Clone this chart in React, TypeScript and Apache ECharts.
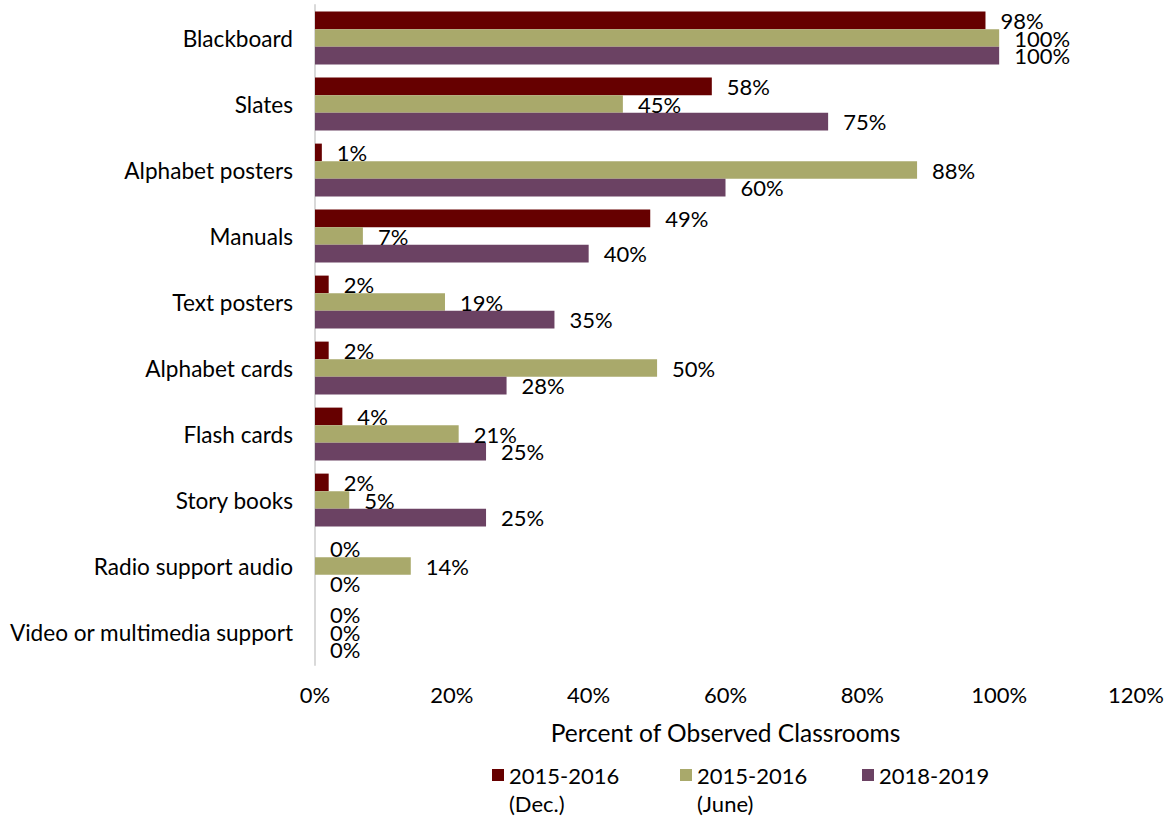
import React, { useEffect, useRef } from "react";
import * as echarts from "echarts";

const categories = [
  "Blackboard",
  "Slates",
  "Alphabet posters",
  "Manuals",
  "Text posters",
  "Alphabet cards",
  "Flash cards",
  "Story books",
  "Radio support audio",
  "Video or multimedia support",
];
const seriesNames = ["2015-2016 (Dec.)", "2015-2016 (June)", "2018-2019"];
const decValues = [98, 58, 1, 49, 2, 2, 4, 2, 0, 0];
const juneValues = [100, 45, 88, 7, 19, 50, 21, 5, 14, 0];
const values1819 = [100, 75, 60, 40, 35, 28, 25, 25, 0, 0];
const colors = ["#660000", "#A9A96B", "#6B4263"];
const FONT = "Lato";
const FS = 22;

export default function App() {
  const ref = useRef<HTMLDivElement>(null);
  useEffect(() => {
    document.body.style.margin = "0";
    if (!ref.current) return;
    const chart = echarts.init(ref.current, null, { renderer: "svg" });
    const allValues = [decValues, juneValues, values1819];
    const legendWidths = [171, 165, 110];
    chart.setOption({
      animation: false,
      textStyle: { fontFamily: FONT },
      grid: { left: 315, right: 38, top: 5, bottom: 152, containLabel: false },
      xAxis: {
        type: "value",
        min: 0,
        max: 120,
        interval: 20,
        axisLine: { show: false },
        axisTick: { show: false },
        splitLine: { show: false },
        axisLabel: { formatter: "{value}%", fontSize: FS, color: "#000", margin: 18, fontFamily: FONT },
        name: "Percent of Observed Classrooms",
        nameLocation: "middle",
        nameGap: 55,
        nameTextStyle: { fontSize: 24.5, color: "#000", fontFamily: FONT },
      },
      yAxis: {
        type: "category",
        inverse: true,
        data: categories,
        axisTick: { show: false },
        axisLine: { show: true, lineStyle: { color: "#D9D9D9", width: 2 } },
        axisLabel: { fontSize: 22.6, color: "#000", margin: 22, fontFamily: FONT },
      },
      legend: {
        left: 492,
        top: 733,
        padding: 0,
        itemWidth: 12,
        itemHeight: 12,
        itemGap: 0,
        icon: "rect",
        data: seriesNames.map((n, i) => ({ name: n, textStyle: { width: legendWidths[i] } })),
        formatter: (name: string) =>
          name.indexOf(" (") >= 0 ? "\u00a0\n" + name.replace(" (", "\n(") : "\u00a0\n" + name + "\n\u00a0",
        textStyle: {
          fontSize: FS,
          color: "#000",
          fontFamily: FONT,
          lineHeight: 28,
        },
      },
      series: seriesNames.map((n, i) => ({
        name: n,
        type: "bar",
        data: allValues[i],
        barGap: "0%",
        barCategoryGap: "20%",
        itemStyle: { color: colors[i] },
        label: {
          show: true,
          position: "right",
          distance: 15,
          formatter: "{c}%",
          fontSize: FS,
          color: "#000",
          fontFamily: FONT,
        },
      })),
    });
    return () => chart.dispose();
  }, []);
  return <div ref={ref} style={{ width: 1174, height: 817 }} />;
}
